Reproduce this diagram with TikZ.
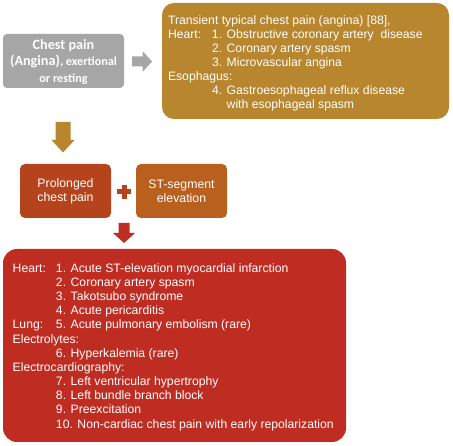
\documentclass[tikz,border=0pt]{standalone}
\usepackage{fontspec}
\setmainfont{Liberation Sans}
\newfontfamily\calib{Carlito}
\definecolor{boxgray}{HTML}{A6A6A6}
\definecolor{gold}{HTML}{B8862E}
\definecolor{rust}{HTML}{B5441C}
\definecolor{ochre}{HTML}{B9601E}
\definecolor{deepred}{HTML}{BF2C22}
\tikzset{
  box/.style={draw=none, inner sep=0pt, outer sep=0pt},
  txt/.style={text=white, inner sep=0pt, outer sep=0pt},
}
\begin{document}
\begin{tikzpicture}[x=1pt,y=-1pt]
\useasboundingbox (0,0) rectangle (453,446);
% boxes
\node[box, fill=boxgray, rounded corners=4pt, minimum width=121pt, minimum height=54pt] (chest) at (63.5,61) {};
\node[box, fill=gold, rounded corners=12pt, minimum width=287pt, minimum height=116pt] (trans) at (305.5,61) {};
\node[box, fill=rust, rounded corners=5pt, minimum width=91pt, minimum height=54pt] (prol) at (65.5,191) {};
\node[box, fill=ochre, rounded corners=5pt, minimum width=91pt, minimum height=54pt] (st) at (181.5,191) {};
\node[box, fill=deepred, rounded corners=14pt, minimum width=343pt, minimum height=193pt] (acute) at (174.5,345.5) {};
% gray box text
\node[txt, align=center, font=\calib\bfseries\fontsize{14.2}{16.5}\selectfont] (chesttxt) at (63.5,62)
  {Chest pain\\(Angina){\fontsize{12.2}{14}\selectfont, exertional}\\{\fontsize{12.2}{14}\selectfont or resting}};
\node[txt, align=center, font=\fontsize{12.3}{14.2}\selectfont] (proltxt) at (prol) {Prolonged\\chest pain};
\node[txt, align=center, font=\fontsize{12.3}{14.2}\selectfont] (sttxt) at (st) {ST-segment\\elevation};
% gold box text
\node[txt, anchor=base west] (transtxt) at (168,24.4) {\fontsize{12.2}{14}\selectfont
  \begin{tabular}[t]{@{}l@{}}
  Transient typical chest pain (angina) [88],\\
  \makebox[44pt][l]{Heart:}1. Obstructive coronary artery\ \ disease\\
  \hspace{44pt}2. Coronary artery spasm\\
  \hspace{44pt}3. Microvascular angina\\
  Esophagus:\\
  \hspace{44pt}4. Gastroesophageal reflux disease\\
  \hspace{44pt}\phantom{4. }with esophageal spasm
  \end{tabular}};
% red box text
\node[txt, anchor=base west] (acutetxt) at (12.7,272.4) {\fontsize{12.2}{14.15}\selectfont
  \begin{tabular}[t]{@{}l@{}}
  \makebox[43.3pt][l]{Heart:}1. Acute ST-elevation myocardial infarction\\
  \hspace{43.3pt}2. Coronary artery spasm\\
  \hspace{43.3pt}3. Takotsubo syndrome\\
  \hspace{43.3pt}4. Acute pericarditis\\
  \makebox[43.3pt][l]{Lung:}5. Acute pulmonary embolism (rare)\\
  Electrolytes:\\
  \hspace{43.3pt}6. Hyperkalemia (rare)\\
  Electrocardiography:\\
  \hspace{43.3pt}7. Left ventricular hypertrophy\\
  \hspace{43.3pt}8. Left bundle branch block\\
  \hspace{43.3pt}9. Preexcitation\\
  \hspace{43.3pt}10. Non-cardiac chest pain with early repolarization
  \end{tabular}};
% block arrows
\fill[boxgray] (132,56.5) -- (142.5,56.5) -- (142.5,51) -- (152,61.5) -- (142.5,72) -- (142.5,66.5) -- (132,66.5) -- cycle;
\fill[gold] (57.5,122) -- (70.5,122) -- (70.5,140) -- (74.5,140) -- (63,152.5) -- (51.5,140) -- (55.5,140) -- (55.5,122) -- cycle;
\fill[deepred] (118.5,223) -- (129.5,223) -- (129.5,233) -- (135,233) -- (124,243) -- (113,233) -- (118.5,233) -- cycle;
% plus
\fill[rust] (121.5,185) rectangle (126.5,199);
\fill[rust] (117,189.5) rectangle (131,194.5);
\end{tikzpicture}
\end{document}
